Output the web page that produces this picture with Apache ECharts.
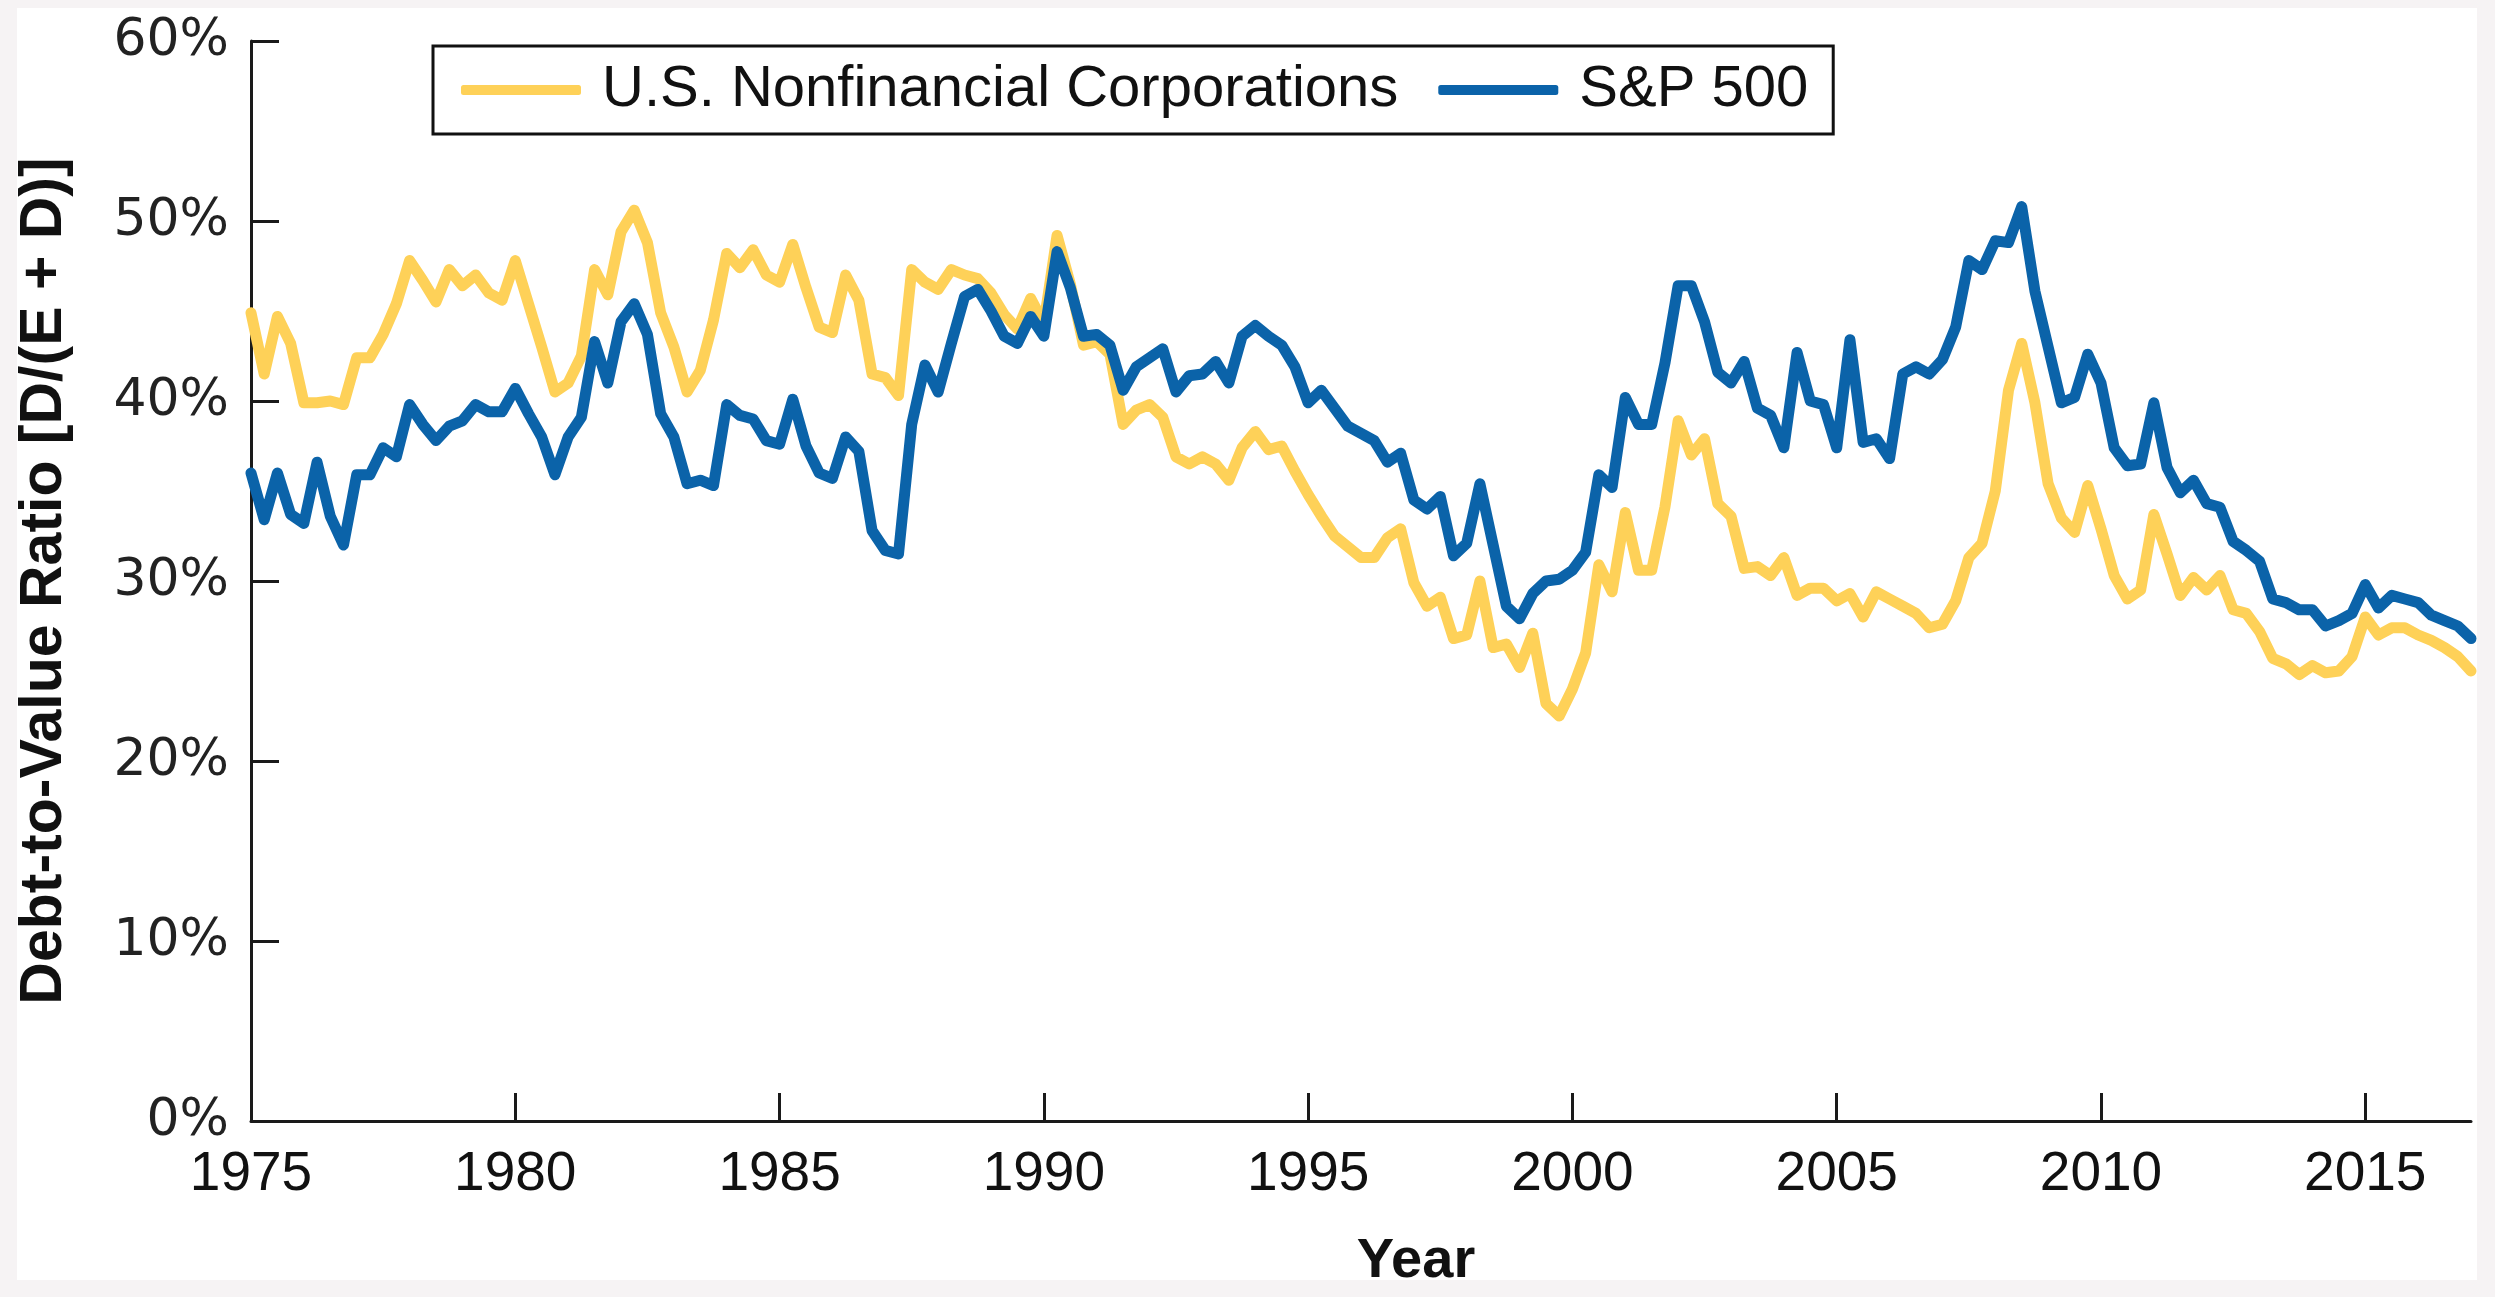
<!DOCTYPE html>
<html><head><meta charset="utf-8">
<script src="https://cdn.jsdelivr.net/npm/echarts@6/dist/echarts.min.js"></script>
<style>
html,body{margin:0;padding:0;background:#f6f3f4;width:2495px;height:1297px;overflow:hidden}
#frame{position:absolute;left:17px;top:8px;width:2460px;height:1272px;background:#fff}
#chart{position:absolute;left:0;top:0;width:2495px;height:1297px}
</style></head><body>
<div id="frame"></div><div id="chart"></div>
<script>
// Debt-to-value ratio (%), quarterly 1975 Q1 - 2017 Q1
const nonfinancial = [
  44.9, 41.5, 44.7, 43.2, 39.9, 39.9, 40.0, 39.8, 42.4, 42.4,
  43.7, 45.4, 47.8, 46.7, 45.5, 47.3, 46.4, 47.0, 46.0, 45.6,
  47.8, 45.4, 43.0, 40.5, 41.0, 42.5, 47.3, 45.9, 49.4, 50.6,
  48.8, 44.9, 43.0, 40.5, 41.7, 44.5, 48.2, 47.4, 48.4, 47.0,
  46.6, 48.7, 46.3, 44.1, 43.8, 47.0, 45.6, 41.5, 41.3, 40.3,
  47.3, 46.6, 46.2, 47.3, 47.0, 46.8, 46.0, 44.8, 44.0, 45.7,
  44.3, 49.2, 46.5, 43.1, 43.3, 42.6, 38.7, 39.5, 39.8, 39.1,
  36.9, 36.5, 36.9, 36.5, 35.6, 37.4, 38.3, 37.3, 37.5, 36.1,
  34.8, 33.6, 32.5, 31.9, 31.3, 31.3, 32.4, 32.9, 29.9, 28.6,
  29.1, 26.8, 27.0, 30.0, 26.3, 26.5, 25.2, 27.1, 23.2, 22.5,
  24.0, 26.0, 30.9, 29.4, 33.8, 30.6, 30.6, 34.1, 38.9, 37.0,
  37.9, 34.3, 33.6, 30.7, 30.8, 30.3, 31.3, 29.2, 29.6, 29.6,
  28.9, 29.3, 28.0, 29.4, 29.0, 28.6, 28.2, 27.4, 27.6, 28.9,
  31.3, 32.1, 35.0, 40.6, 43.2, 39.9, 35.4, 33.5, 32.7, 35.3,
  32.9, 30.3, 29.0, 29.5, 33.7, 31.5, 29.2, 30.2, 29.5, 30.3,
  28.4, 28.2, 27.2, 25.7, 25.4, 24.8, 25.3, 24.9, 25.0, 25.8,
  28.0, 27.0, 27.4, 27.4, 27.0, 26.7, 26.3, 25.8, 25.0
];
const sp500 = [
  36.0, 33.4, 36.0, 33.7, 33.2, 36.6, 33.6, 32.0, 35.9, 35.9,
  37.4, 36.9, 39.8, 38.7, 37.8, 38.6, 38.9, 39.8, 39.4, 39.4,
  40.7, 39.3, 38.0, 35.9, 38.0, 39.1, 43.3, 41.0, 44.4, 45.4,
  43.7, 39.3, 38.0, 35.4, 35.6, 35.3, 39.8, 39.2, 39.0, 37.8,
  37.6, 40.1, 37.5, 36.0, 35.7, 38.0, 37.2, 32.8, 31.7, 31.5,
  38.7, 42.0, 40.5, 43.2, 45.8, 46.2, 45.0, 43.6, 43.2, 44.7,
  43.6, 48.3, 46.3, 43.6, 43.7, 43.1, 40.6, 41.9, 42.4, 42.9,
  40.5, 41.4, 41.5, 42.2, 41.0, 43.6, 44.2, 43.6, 43.1, 41.9,
  39.9, 40.6, 39.6, 38.6, 38.2, 37.8, 36.6, 37.1, 34.5, 34.0,
  34.7, 31.4, 32.1, 35.4, 32.0, 28.6, 27.9, 29.3, 30.0, 30.1,
  30.6, 31.6, 35.9, 35.2, 40.2, 38.7, 38.7, 42.1, 46.4, 46.4,
  44.4, 41.6, 41.0, 42.2, 39.6, 39.2, 37.4, 42.7, 40.0, 39.8,
  37.4, 43.4, 37.7, 37.9, 36.8, 41.5, 41.9, 41.5, 42.3, 44.1,
  47.8, 47.3, 48.9, 48.8, 50.8, 46.1, 43.0, 39.9, 40.2, 42.6,
  41.0, 37.4, 36.4, 36.5, 39.9, 36.3, 34.9, 35.6, 34.3, 34.1,
  32.2, 31.7, 31.1, 29.0, 28.8, 28.4, 28.4, 27.5, 27.8, 28.2,
  29.8, 28.5, 29.2, 29.0, 28.8, 28.1, 27.8, 27.5, 26.8
];
// Category labels: one per quarter
const quarters = [];
for (let y = 1975; y <= 2017; y++) {
  for (let q = 1; q <= 4; q++) {
    if (y === 2017 && q > 1) break;
    quarters.push(y + ' Q' + q);
  }
}
const seriesNames = ['U.S. Nonfinancial Corporations', 'S&P 500'];
const seriesColors = ['#FED158', '#0B63A9'];
const isTick = (i) => i % 20 === 0;
const GRID_LEFT = 251, GRID_RIGHT = 24, CHART_W = 2495;

const chart = echarts.init(document.getElementById('chart'), null, {renderer: 'canvas'});
chart.setOption({
  animation: false,
  backgroundColor: 'transparent',
  grid: {left: GRID_LEFT, right: GRID_RIGHT, top: 41, bottom: 176, containLabel: false},
  legend: {
    left: 433, top: 46,
    icon: 'roundRect',
    itemWidth: 120, itemHeight: 10, itemGap: 40,
    padding: [15, 25, 15, 28],
    borderColor: '#111', borderWidth: 3,
    textStyle: {fontSize: 58, fontFamily: 'Liberation Sans', color: '#111', padding: [0, 0, 0, 16]},
    data: seriesNames
  },
  xAxis: {
    type: 'category', data: quarters, boundaryGap: false,
    axisLine: {lineStyle: {color: '#1a1a1a', width: 3}},
    axisTick: {inside: true, length: 28, interval: isTick, lineStyle: {color: '#1a1a1a', width: 3}},
    axisLabel: {interval: isTick, formatter: (v) => v.slice(0, 4), fontSize: 55,
      fontFamily: 'Liberation Sans', color: '#111', margin: 26},
    splitLine: {show: false},
    name: 'Year', nameLocation: 'middle', nameGap: 113,
    nameTextStyle: {fontSize: 56, fontWeight: 'bold', fontFamily: 'Liberation Sans', color: '#111',
      padding: [0, 0, 0, 110]}
  },
  yAxis: [
    {
      type: 'value', min: 0, max: 60, interval: 10,
      axisLine: {show: true, lineStyle: {color: '#1a1a1a', width: 3}},
      axisTick: {show: false},
      splitLine: {show: false},
      axisLabel: {formatter: '{value}%', fontSize: 52, fontFamily: 'DejaVu Sans', color: '#222', margin: 22},
      name: 'Debt-to-Value Ratio [D/(E + D)]', nameLocation: 'middle', nameRotate: 90, nameGap: 177,
      nameTextStyle: {fontSize: 59, fontWeight: 'bold', fontFamily: 'Liberation Sans', color: '#111'}
    },
    {
      // tick marks pointing into the plot, drawn from the left edge of the grid
      type: 'value', min: 0, max: 60, interval: 10,
      position: 'right', offset: -(CHART_W - GRID_LEFT - GRID_RIGHT),
      axisLine: {show: false},
      axisTick: {show: true, inside: false, length: 28, lineStyle: {color: '#1a1a1a', width: 3}},
      axisLabel: {show: false},
      splitLine: {show: false}
    }
  ],
  series: [
    {name: seriesNames[0], type: 'line', data: nonfinancial, symbol: 'none',
     lineStyle: {color: seriesColors[0], width: 11, cap: 'round', join: 'round'},
     itemStyle: {color: seriesColors[0]}},
    {name: seriesNames[1], type: 'line', data: sp500, symbol: 'none',
     lineStyle: {color: seriesColors[1], width: 11, cap: 'round', join: 'round'},
     itemStyle: {color: seriesColors[1]}}
  ]
});
</script>
</body></html>
